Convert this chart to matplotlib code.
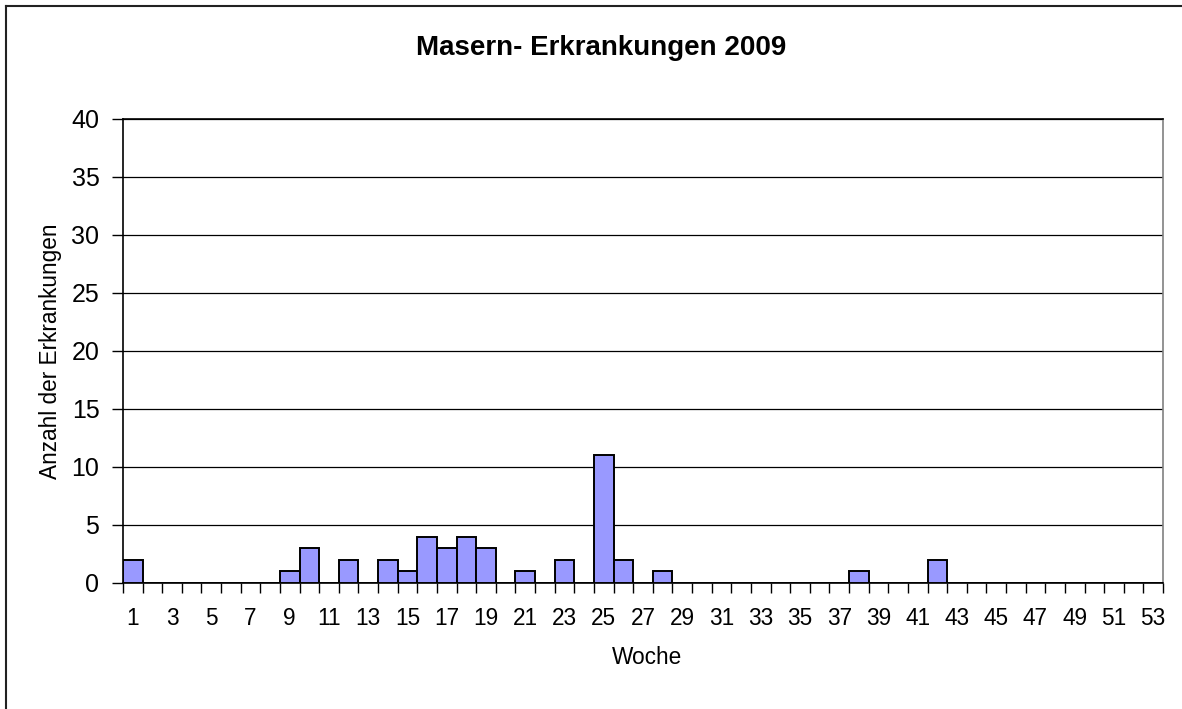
import matplotlib
matplotlib.use("Agg")
import matplotlib.pyplot as plt
from matplotlib.lines import Line2D
from matplotlib.ticker import FixedLocator, NullFormatter

plt.rcParams['font.family'] = ['Liberation Sans', 'DejaVu Sans']

# Weekly measles cases, 2009
weeks = list(range(1, 54))
cases_by_week = {1: 2, 9: 1, 10: 3, 12: 2, 14: 2, 15: 1, 16: 4, 17: 3, 18: 4,
                 19: 3, 21: 1, 23: 2, 25: 11, 26: 2, 28: 1, 38: 1, 42: 2}
cases = [cases_by_week.get(w, 0) for w in weeks]
y_ticks = [0, 5, 10, 15, 20, 25, 30, 35, 40]
x_labels = [str(w) for w in weeks if w % 2 == 1]

title = "Masern- Erkrankungen 2009"
x_title = "Woche"
y_title = "Anzahl der Erkrankungen"

W, H = 1182, 709
fig = plt.figure(figsize=(W / 100, H / 100), dpi=100)
fig.patch.set_facecolor("white")

ax = fig.add_axes([123 / W, (H - 583) / H, 1040 / W, 464 / H])
ax.bar(weeks, cases, width=1.0, color="#9999FF", edgecolor="black",
       linewidth=1.4, zorder=3)

ax.set_xlim(0.5, 53.5)
ax.set_ylim(0, 40)
ax.set_yticks(y_ticks)
ax.yaxis.grid(True, color="black", linewidth=0.9, zorder=0)
ax.tick_params(axis="y", direction="out", length=8, width=1, pad=9,
               labelsize=18, colors="black")

# tick marks on category boundaries, labels on every other week centre
ax.xaxis.set_major_locator(FixedLocator([w + 0.5 for w in range(0, 54)]))
ax.xaxis.set_major_formatter(NullFormatter())
ax.xaxis.set_minor_locator(FixedLocator([w for w in weeks if w % 2 == 1]))
ax.set_xticklabels(x_labels, minor=True)
ax.tick_params(axis="x", which="major", direction="out", length=7, width=1)
ax.tick_params(axis="x", which="minor", length=0, pad=17, labelsize=16.3)

for side in ("left", "bottom", "top"):
    ax.spines[side].set_color("black")
    ax.spines[side].set_linewidth(1.2)
ax.spines["right"].set_color("#808080")
ax.spines["right"].set_linewidth(1.2)

fig.text(601 / W, 1 - 48 / H, title, ha="center", va="center",
         fontsize=20, fontweight="bold")
fig.text(647 / W, 1 - 658 / H, x_title, ha="center", va="center", fontsize=16.3)
fig.text(51 / W, 1 - 351 / H, y_title, ha="center", va="center",
         rotation=90, fontsize=16.3)

# outer chart frame
fig.add_artist(Line2D([6 / W, 6 / W], [1 - 6 / H, 0], transform=fig.transFigure,
                      color="#222222", linewidth=1.5))
fig.add_artist(Line2D([6 / W, 1], [1 - 6 / H, 1 - 6 / H], transform=fig.transFigure,
                      color="#222222", linewidth=1.5))

fig.savefig("out.png", dpi=100)
